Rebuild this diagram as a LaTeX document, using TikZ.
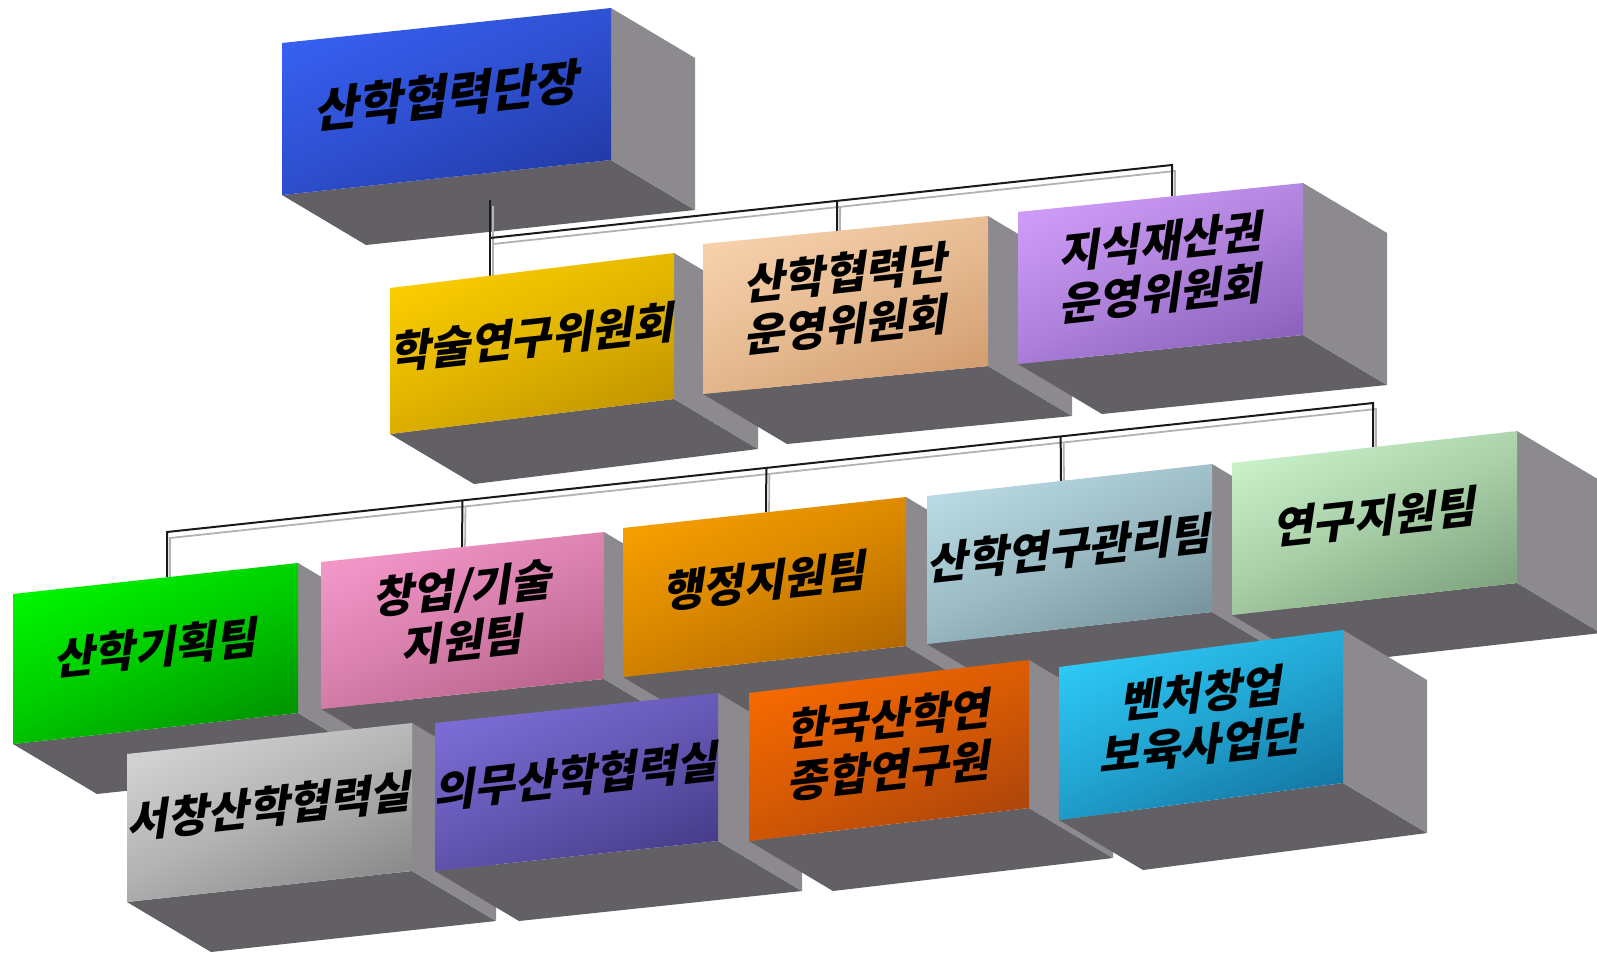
\documentclass[tikz,border=0pt]{standalone}
\usepackage{fontspec}
\newfontfamily\krfont{Noto Sans CJK KR}[FakeSlant=0.15]
\usetikzlibrary{calc}

\definecolor{blueL}{RGB}{55,95,240}
\definecolor{blueD}{RGB}{35,60,170}
\definecolor{yellowL}{RGB}{250,205,0}
\definecolor{yellowD}{RGB}{195,150,0}
\definecolor{beigeL}{RGB}{245,208,170}
\definecolor{beigeD}{RGB}{212,160,115}
\definecolor{purpleL}{RGB}{205,155,245}
\definecolor{purpleD}{RGB}{140,100,190}
\definecolor{greenL}{RGB}{0,245,0}
\definecolor{greenD}{RGB}{0,150,0}
\definecolor{pinkL}{RGB}{242,150,200}
\definecolor{pinkD}{RGB}{185,100,140}
\definecolor{orangeL}{RGB}{245,158,0}
\definecolor{orangeD}{RGB}{180,105,0}
\definecolor{steelL}{RGB}{185,218,228}
\definecolor{steelD}{RGB}{120,150,158}
\definecolor{mintL}{RGB}{200,240,200}
\definecolor{mintD}{RGB}{128,165,128}
\definecolor{silverL}{RGB}{210,210,210}
\definecolor{silverD}{RGB}{140,140,140}
\definecolor{violetL}{RGB}{122,108,212}
\definecolor{violetD}{RGB}{72,62,140}
\definecolor{redorL}{RGB}{245,105,0}
\definecolor{redorD}{RGB}{175,70,10}
\definecolor{cyanL}{RGB}{45,200,245}
\definecolor{cyanD}{RGB}{20,120,165}
\definecolor{sidegray}{RGB}{140,138,142}
\definecolor{floorgray}{RGB}{98,96,100}

\tikzset{
	sideface/.style={fill=sidegray},
	floorface/.style={fill=floorgray},
	boxtext/.style={font=\krfont\bfseries\fontsize{44}{52}\selectfont, align=center, yslant=0.11, inner sep=0pt},
	bus/.style={draw=black!90, line width=2pt,
		preaction={draw=gray!60, line width=1.8pt, transform canvas={shift={(3pt,-6pt)}}}},
}

% #1 name, (#2,#3) top left, (#4,#5) top right, #6 height, #7 colour, #8 text
\newcommand{\orgbox}[8]{%
	\coordinate (#1-tl) at (#2,#3);
	\coordinate (#1-tr) at (#4,#5);
	\coordinate (#1-bl) at (#2,#3+#6);
	\coordinate (#1-br) at (#4,#5+#6);
	\fill[floorface] (#1-bl) -- (#1-br) -- ($(#1-br)+(84,50)$) -- ($(#1-bl)+(84,50)$) -- cycle;
	\fill[sideface] (#1-tr) -- ($(#1-tr)+(84,50)$) -- ($(#1-br)+(84,50)$) -- (#1-br) -- cycle;
	\shade[top color=#7L, bottom color=#7D, middle color=#7L!55!#7D, shading angle=25]
		(#1-tl) -- (#1-tr) -- (#1-br) -- (#1-bl) -- cycle;
	\node[boxtext] (#1) at ($(#1-tl)!0.5!(#1-br)+(0,-6)$) {#8};
}

\begin{document}
\begin{tikzpicture}[x=1pt, y=-1pt]
	\useasboundingbox (0,0) rectangle (1597,958);
	\clip (0,0) rectangle (1597,958);

	%Director
	\orgbox{danjang}{282}{43}{611}{8}{152}{blue}{{\fontsize{48}{54}\selectfont 산학협력단장}}

	%Committee connections
	\coordinate (danjang-out) at (490,200);
	\coordinate (bus1-w) at (490,238);
	\coordinate (bus1-e) at (1172,165);
	\coordinate (haksul-in) at (490,276);
	\coordinate (unyoung-in) at (837,231);
	\coordinate (jisik-in) at (1172,196);
	\draw[bus] (danjang-out) -- (haksul-in);
	\draw[bus] (bus1-w) -- (bus1-e) -- (jisik-in);
	\draw[bus] ($(bus1-w)!0.509!(bus1-e)$) -- (unyoung-in);

	%Committees
	\orgbox{haksul}{390}{288}{674}{253}{146}{yellow}{학술연구위원회}
	\orgbox{unyoung}{703}{244}{988}{216}{150}{beige}{산학협력단\\운영위원회}
	\orgbox{jisik}{1018}{212}{1303}{183}{152}{purple}{지식재산권\\운영위원회}

	%Team connections
	\coordinate (bus2-w) at (167,532);
	\coordinate (bus2-e) at (1373,403);
	\coordinate (gihoek-in) at (167,577);
	\coordinate (changup-in) at (462,547);
	\coordinate (haengjeong-in) at (766,512);
	\coordinate (gwanri-in) at (1061,481);
	\coordinate (yeongu-in) at (1373,447);
	\draw[bus] (gihoek-in) -- (bus2-w) -- (bus2-e) -- (yeongu-in);
	\foreach \f/\b in {0.245/changup, 0.497/haengjeong, 0.741/gwanri}
		\draw[bus] ($(bus2-w)!\f!(bus2-e)$) -- (\b-in);

	%Teams
	\orgbox{gihoek}{13}{594}{298}{563}{150}{green}{산학기획팀}
	\orgbox{changup}{321}{562}{604}{532}{147}{pink}{창업/기술\\지원팀}
	\orgbox{haengjeong}{623}{528}{906}{497}{149}{orange}{행정지원팀}
	\orgbox{gwanri}{927}{496}{1212}{464}{148}{steel}{산학연구관리팀}
	\orgbox{yeongu}{1232}{463}{1517}{431}{152}{mint}{연구지원팀}

	%Offices
	\orgbox{seochang}{127}{754}{412}{723}{148}{silver}{서창산학협력실}
	\orgbox{uimu}{435}{723}{718}{693}{148}{violet}{의무산학협력실}
	\orgbox{hanguk}{749}{693}{1029}{660}{148}{redor}{한국산학연\\종합연구원}
	\orgbox{venture}{1059}{667}{1343}{630}{153}{cyan}{벤처창업\\보육사업단}

\end{tikzpicture}
\end{document}
